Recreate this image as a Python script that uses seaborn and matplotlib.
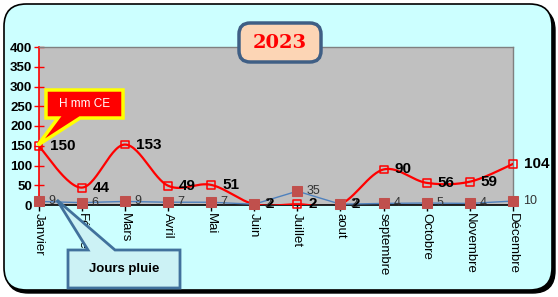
import numpy as np
import pandas as pd
import matplotlib
matplotlib.use("Agg")
import matplotlib.pyplot as plt
from matplotlib.patches import FancyBboxPatch, Polygon
import seaborn as sns

months = ["Janvier", "Février", "Mars", "Avril", "Mai", "Juin", "Juillet",
          "aout", "septembre", "Octobre", "Novembre", "Décembre"]
rain_mm = [150, 44, 153, 49, 51, 2, 2, 2, 90, 56, 59, 104]
rain_days = [9, 6, 9, 7, 7, 2, 35, 2, 4, 5, 4, 10]
y_ticks = [0, 50, 100, 150, 200, 250, 300, 350, 400]
title_text = "2023"
rain_label = "H mm CE"
days_label = "Jours pluie"

W, H = 558, 297
plt.rcParams['font.family'] = ['Liberation Sans', 'DejaVu Sans']
fig = plt.figure(figsize=(W / 100, H / 100), dpi=100)
fig.patch.set_facecolor("white")


def fx(x):
    return x / W


def fy(y):
    return 1 - y / H


# background rounded frame with shadow
shadow = FancyBboxPatch((fx(6), fy(293)), fx(549), (291 - 6) / H,
                        boxstyle="round,pad=0,rounding_size=0.04",
                        transform=fig.transFigure, facecolor="black",
                        edgecolor="black", lw=1, zorder=-2,
                        mutation_aspect=W / H)
fig.patches.append(shadow)
frame = FancyBboxPatch((fx(4), fy(290)), fx(548), (290 - 4) / H,
                       boxstyle="round,pad=0,rounding_size=0.04",
                       transform=fig.transFigure, facecolor="#CCFFFF",
                       edgecolor="black", lw=1.2, zorder=-1,
                       mutation_aspect=W / H)
fig.patches.append(frame)

ax = fig.add_axes([fx(38.5), fy(205), (513 - 38.5) / W, (205 - 47) / H])
ax.set_zorder(1)
ax.set_facecolor("#C0C0C0")
ax.set_xlim(0, len(months) - 1)
ax.set_ylim(0, 400)

df = pd.DataFrame({"mois": np.arange(len(months)), "mm": rain_mm,
                   "jours": rain_days})

# smooth (Catmull-Rom) curve through rain values
px = df["mois"].to_numpy(float)
py = df["mm"].to_numpy(float)
P = np.column_stack([px, py])
Pp = np.vstack([P[0], P, P[-1]])
curve = []
for i in range(1, len(Pp) - 2):
    p0, p1, p2, p3 = Pp[i - 1], Pp[i], Pp[i + 1], Pp[i + 2]
    t = np.linspace(0, 1, 30)[:, None]
    seg = 0.5 * ((2 * p1) + (-p0 + p2) * t + (2 * p0 - 5 * p1 + 4 * p2 - p3) * t ** 2
                 + (-p0 + 3 * p1 - 3 * p2 + p3) * t ** 3)
    curve.append(seg)
curve = np.vstack(curve)
ax.plot(curve[:, 0], curve[:, 1], color="#FF0000", lw=1.6, zorder=3)
sns.scatterplot(data=df, x="mois", y="mm", marker="s", s=32,
                facecolor="none", edgecolor="#FF0000", linewidth=1.1,
                ax=ax, zorder=4, clip_on=False)

sns.lineplot(data=df, x="mois", y="jours", color="#4F81BD", lw=1.0,
             marker="s", markersize=6.5, markerfacecolor="#C0504D",
             markeredgecolor="#C0504D", ax=ax, zorder=5, clip_on=False)

for i, (m, d) in enumerate(zip(rain_mm, rain_days)):
    ax.annotate(str(m), (i, m), xytext=(8, 0), textcoords="offset points",
                ha="left", va="center", fontsize=11, fontweight="bold",
                color="black", zorder=6, annotation_clip=False)
    ax.annotate(str(d), (i, d), xytext=(7, 0), textcoords="offset points",
                ha="left", va="center", fontsize=9, color="#333333",
                zorder=6, annotation_clip=False)

ax.set_xticks(range(len(months)))
ax.set_xticklabels(months, rotation=270, fontsize=9.5, va="top", ha="center")
ax.set_yticks(y_ticks)
ax.set_yticklabels([str(v) for v in y_ticks], fontsize=9.5, fontweight="bold")
ax.set_xlabel("")
ax.set_ylabel("")
ax.tick_params(axis="y", colors="#FF0000", length=7, width=1, direction="inout",
               labelcolor="black", pad=1)
ax.tick_params(axis="x", colors="black", length=4, width=1, labelcolor="black", pad=2)
for s in ["top", "right"]:
    ax.spines[s].set_color("#808080")
    ax.spines[s].set_linewidth(1)
ax.spines["left"].set_color("#FF0000")
ax.spines["left"].set_linewidth(1.2)
ax.spines["bottom"].set_color("black")
ax.spines["bottom"].set_linewidth(1.2)
ax.grid(False)

# title box
tb = FancyBboxPatch((fx(239), fy(62)), fx(321 - 239), (62 - 23) / H,
                    boxstyle="round,pad=0,rounding_size=0.02",
                    transform=fig.transFigure, facecolor="#FCD5B5",
                    edgecolor="#3F5F85", lw=2.5, zorder=10,
                    mutation_aspect=W / H)
fig.patches.append(tb)
fig.text(fx(280), fy(43), title_text, ha="center", va="center",
         fontsize=14, fontweight="bold", color="#FF0000",
         family="DejaVu Serif", zorder=11)

# H mm CE callout
pts1 = [(46, 90), (123, 90), (123, 118), (80, 118), (38, 145), (58, 118), (46, 118)]
c1 = Polygon([(fx(x), fy(y)) for x, y in pts1], closed=True,
             transform=fig.transFigure, facecolor="#FF0000",
             edgecolor="#FFFF00", lw=2.5, zorder=10, joinstyle="miter")
fig.patches.append(c1)
fig.text(fx(84.5), fy(104), rain_label, ha="center", va="center",
         fontsize=8.5, color="white", zorder=11)

# Jours pluie callout
pts2 = [(68, 250), (88, 250), (57, 200), (115, 250), (180, 250), (180, 288), (68, 288)]
c2 = Polygon([(fx(x), fy(y)) for x, y in pts2], closed=True,
             transform=fig.transFigure, facecolor="#CCF2F5",
             edgecolor="#41719C", lw=2, zorder=10, joinstyle="miter")
fig.patches.append(c2)
fig.text(fx(124), fy(269), days_label, ha="center", va="center",
         fontsize=9.5, fontweight="bold", color="black", zorder=11)

fig.savefig("out.png", dpi=100)
